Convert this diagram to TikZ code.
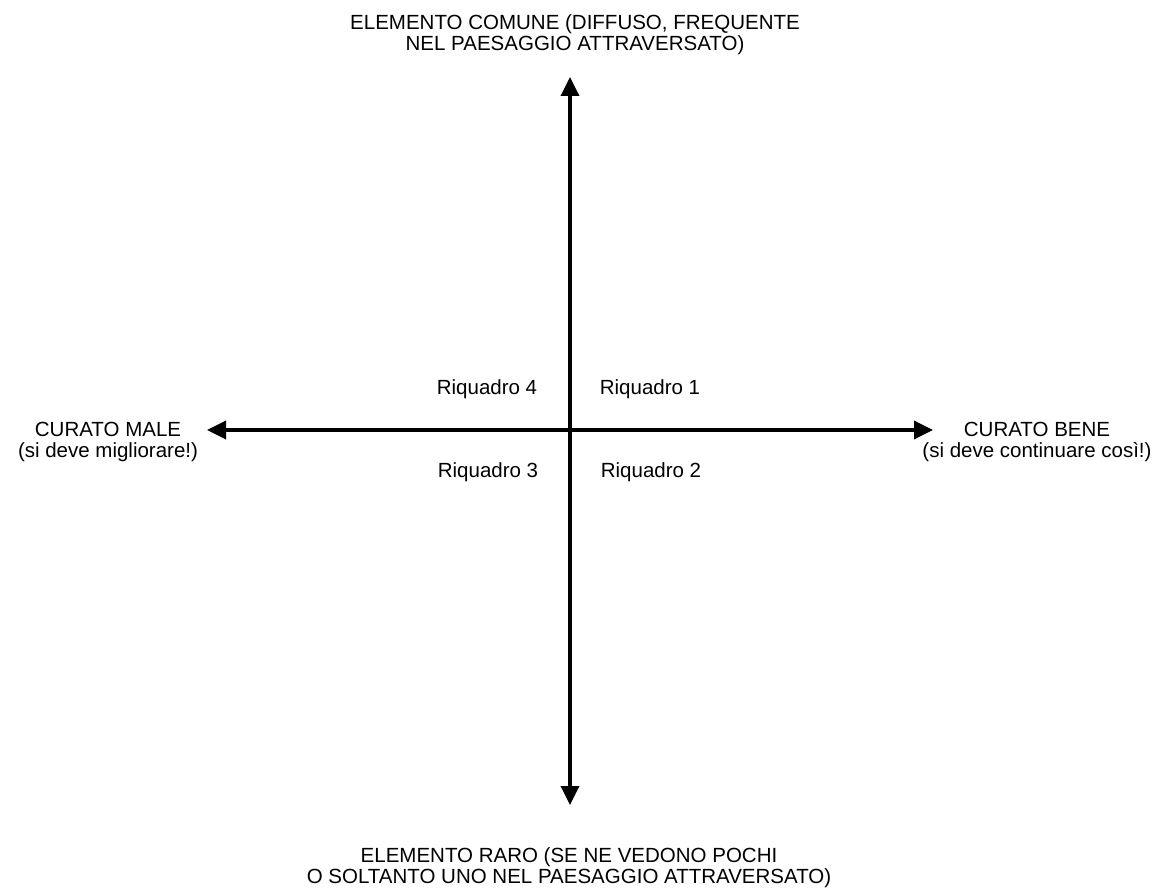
\documentclass[tikz,border=0pt]{standalone}
\usepackage{fontspec}
\setmainfont{Liberation Sans}
\usetikzlibrary{arrows.meta}
\begin{document}
\begin{tikzpicture}[x=1pt,y=-1pt,
  axis/.style={line width=3.5pt,{Triangle[length=19pt,width=18pt]}-{Triangle[length=19pt,width=18pt]}},
  lbl/.style={align=center,inner sep=0pt,font=\fontsize{20.5}{21}\selectfont},
  quad/.style={inner sep=0pt,font=\fontsize{20.5}{21}\selectfont}]
\useasboundingbox[fill=white] (0,0) rectangle (1168,890);
\coordinate (O) at (570,430);
\coordinate (T) at (570,77);
\coordinate (B) at (570,805);
\coordinate (L) at (207,430);
\coordinate (R) at (933,430);
\draw[axis] (B) -- (T);
\draw[axis] (L) -- (R);
\node[lbl] (top) at (575,35) {ELEMENTO COMUNE (DIFFUSO, FREQUENTE\\NEL PAESAGGIO ATTRAVERSATO)};
\node[lbl] (bot) at (569,868) {ELEMENTO RARO (SE NE VEDONO POCHI\\O SOLTANTO UNO NEL PAESAGGIO ATTRAVERSATO)};
\node[lbl] (left) at (108,442) {CURATO MALE\\(si deve migliorare!)};
\node[lbl] (right) at (1037,442) {CURATO BENE\\(si deve continuare così!)};
\node[quad] (q4) at (487,389) {Riquadro 4};
\node[quad] (q1) at (650,389) {Riquadro 1};
\node[quad] (q3) at (488,472) {Riquadro 3};
\node[quad] (q2) at (651,472) {Riquadro 2};
\end{tikzpicture}
\end{document}
